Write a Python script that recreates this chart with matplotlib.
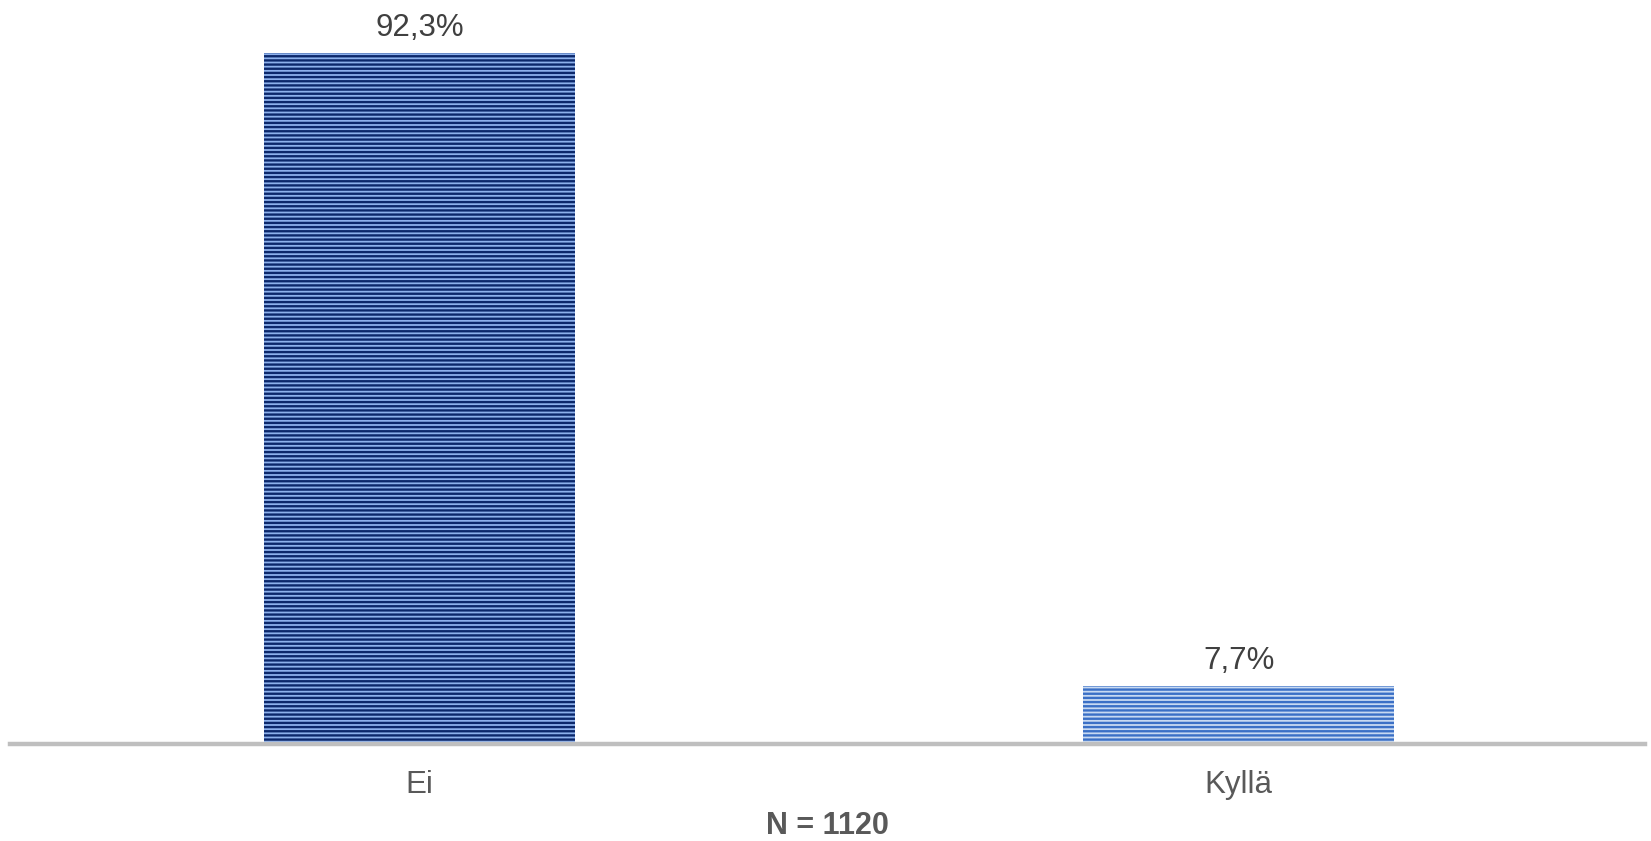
import matplotlib
matplotlib.use("Agg")
import matplotlib.pyplot as plt

categories = ["Ei", "Kyllä"]
values = [92.3, 7.7]
value_labels = ["92,3%", "7,7%"]
note = "N = 1120"

face_colors = ["#8DB1EC", "#C8DAF2"]
stripe_colors = ["#0C286B", "#3B70C6"]

plt.rcParams['font.family'] = ['Liberation Sans', 'DejaVu Sans']
plt.rcParams['hatch.linewidth'] = 1.7

fig = plt.figure(figsize=(16.51, 8.41), dpi=100)
ax = fig.add_axes([10/1651, 97/841, 1635/1651, 744/841])

x = list(range(len(categories)))
bars = ax.bar(x, values, width=0.38, color=face_colors, edgecolor=stripe_colors,
              linewidth=0, hatch='----')
for b, ec in zip(bars, stripe_colors):
    b.set_edgecolor(ec)
    b.set_linewidth(0)

for xi, v, lab in zip(x, values, value_labels):
    ax.annotate(lab, (xi, v), xytext=(0, 12.5), textcoords='offset points',
                ha='center', va='baseline', fontsize=22.5, color='#404040')

ax.set_xlim(-0.5, 1.496)
ax.set_ylim(0, 99.4)
ax.set_xticks(x)
ax.set_xticklabels(categories, fontsize=22.5, color='#595959')
ax.tick_params(axis='x', length=0, pad=19)
ax.set_yticks([])
for s in ['top', 'right', 'left']:
    ax.spines[s].set_visible(False)
ax.spines['bottom'].set_color('#BFBFBF')
ax.spines['bottom'].set_linewidth(3.2)

fig.text(827/1651, 1 - 826/841, note, ha='center', va='center',
         fontsize=22, fontweight='bold', color='#595959')

fig.savefig("out.png", dpi=100)
